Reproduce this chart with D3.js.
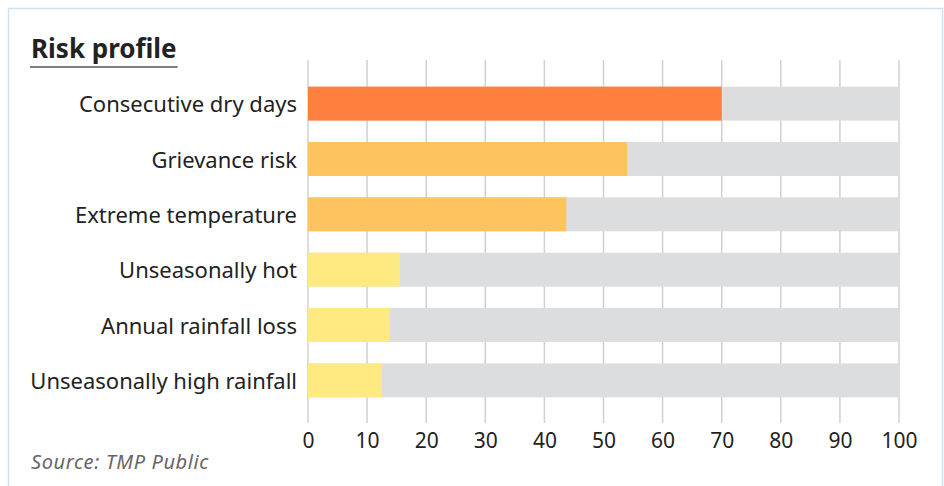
<!DOCTYPE html>
<html>
<head>
<meta charset="utf-8">
<script src="https://cdn.jsdelivr.net/npm/d3@7"></script>
<style>
  html, body { margin: 0; padding: 0; background: #fff; }
  svg { display: block; font-family: "Noto Sans", "Open Sans", sans-serif; }
</style>
</head>
<body>
<svg id="chart" width="944" height="486"></svg>
<script>
// Risk indicators, scored 0–100
const categories = [
  "Consecutive dry days",
  "Grievance risk",
  "Extreme temperature",
  "Unseasonally hot",
  "Annual rainfall loss",
  "Unseasonally high rainfall"
];
const scores = [70, 54, 43.7, 15.5, 13.8, 12.5];
const levels = ["high", "medium", "medium", "low", "low", "low"];
const tickValues = [0, 10, 20, 30, 40, 50, 60, 70, 80, 90, 100];
const maxScore = 100;

const levelColor = { high: "#fe7f3e", medium: "#fdc35e", low: "#feea80" };

const svg = d3.select("#chart");

// card frame
svg.append("rect")
  .attr("x", 8.5).attr("y", 8.5)
  .attr("width", 934).attr("height", 500)
  .attr("fill", "none").attr("stroke", "#cfe2f3").attr("stroke-width", 1.5);

// title with underline
const title = svg.append("text")
  .attr("x", 31).attr("y", 58)
  .attr("font-size", 26).attr("font-weight", 700).attr("fill", "#222")
  .text("Risk profile");
const tw = title.node().getComputedTextLength();
svg.append("line")
  .attr("x1", 30).attr("x2", 31 + tw + 1)
  .attr("y1", 67).attr("y2", 67)
  .attr("stroke", "#555").attr("stroke-width", 1.5);

const x = d3.scaleLinear().domain([0, maxScore]).range([308, 899]);
const y = d3.scaleBand().domain(categories).range([64.5, 419.5]).paddingInner(0.387).paddingOuter(0.4);

// vertical gridlines
svg.append("g").selectAll("line")
  .data(tickValues)
  .join("line")
  .attr("x1", d => x(d)).attr("x2", d => x(d))
  .attr("y1", 60).attr("y2", 423)
  .attr("stroke", "#d0d0d0").attr("stroke-width", 1.5);

// background tracks
svg.append("g").selectAll("rect")
  .data(categories)
  .join("rect")
  .attr("x", x(0)).attr("y", d => y(d))
  .attr("width", x(maxScore) - x(0)).attr("height", y.bandwidth())
  .attr("fill", "#dcdddf");

// value bars
svg.append("g").selectAll("rect")
  .data(categories)
  .join("rect")
  .attr("x", x(0)).attr("y", d => y(d))
  .attr("width", (d, i) => x(scores[i]) - x(0)).attr("height", y.bandwidth())
  .attr("fill", (d, i) => levelColor[levels[i]]);

// category labels
svg.append("g").selectAll("text")
  .data(categories)
  .join("text")
  .attr("x", 297).attr("y", d => y(d) + y.bandwidth() / 2)
  .attr("dy", "0.4em").attr("text-anchor", "end")
  .attr("font-size", 22).attr("fill", "#222")
  .text(d => d);

// x axis labels
const axis = d3.axisBottom(x).tickValues(tickValues).tickSize(0).tickPadding(0);
const ax = svg.append("g").attr("transform", "translate(0,448)").call(axis);
ax.select(".domain").remove();
ax.selectAll("text")
  .attr("y", 0).attr("dy", null)
  .attr("font-size", 21).attr("fill", "#222")
  .attr("font-family", "'Noto Sans', sans-serif");

// source note
svg.append("text")
  .attr("x", 31).attr("y", 469)
  .attr("font-size", 20).attr("font-style", "italic").attr("fill", "#666")
  .attr("letter-spacing", 0.6)
  .text("Source: TMP Public");
</script>
</body>
</html>
